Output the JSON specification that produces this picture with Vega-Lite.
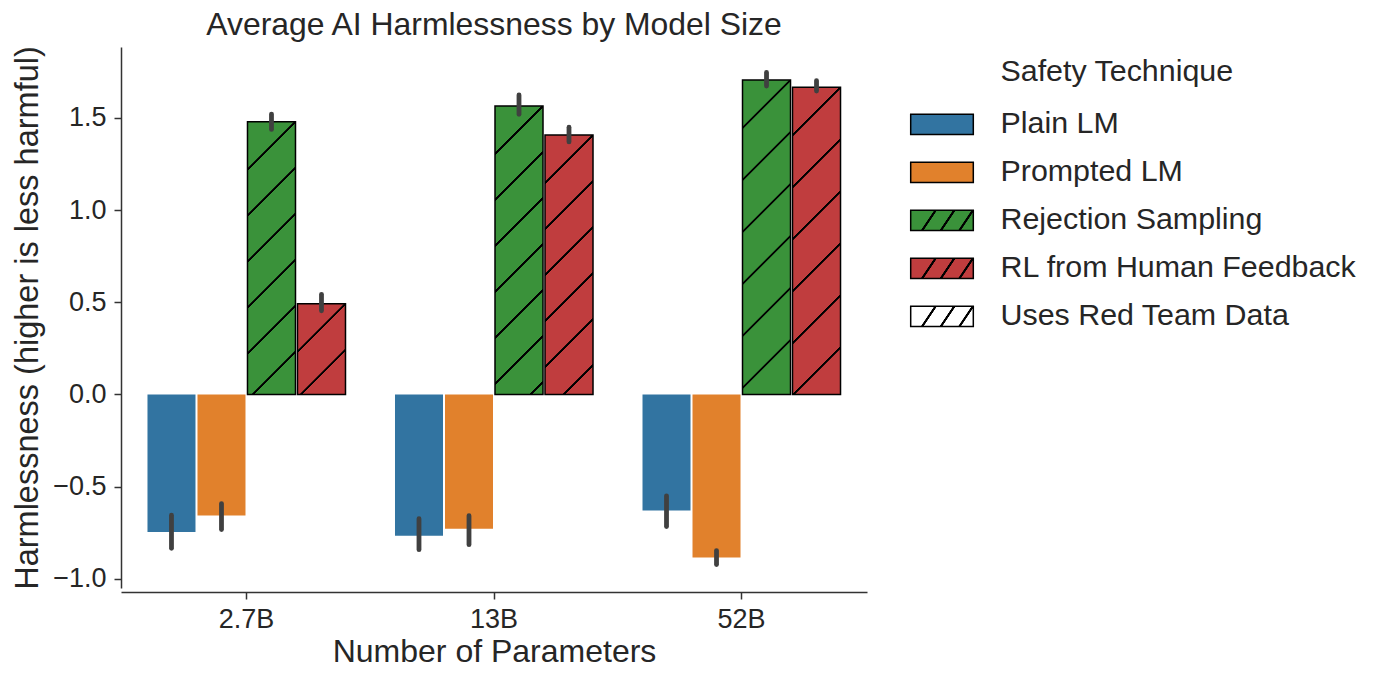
{
  "$schema": "https://vega.github.io/schema/vega-lite/v6.json",
  "width": 746,
  "height": 541,
  "autosize": "none",
  "padding": {"left": 121, "top": 47, "right": 508, "bottom": 87},
  "background": "white",
  "config": {"font": "Liberation Sans", "view": {"stroke": null}, "axis": {"grid": false}},
  "title": {"text": "Average AI Harmlessness by Model Size", "fontSize": 31.9, "fontWeight": "normal", "color": "#262626", "anchor": "middle", "offset": 4},
  "data": {"values": [
    {"size": "2.7B", "technique": "Plain LM", "mean": -0.746, "lo": -0.835, "hi": -0.655},
    {"size": "2.7B", "technique": "Prompted LM", "mean": -0.656, "lo": -0.733, "hi": -0.592},
    {"size": "2.7B", "technique": "Rejection Sampling", "mean": 1.480, "lo": 1.438, "hi": 1.521},
    {"size": "2.7B", "technique": "RL from Human Feedback", "mean": 0.492, "lo": 0.454, "hi": 0.543},
    {"size": "13B", "technique": "Plain LM", "mean": -0.766, "lo": -0.842, "hi": -0.674},
    {"size": "13B", "technique": "Prompted LM", "mean": -0.728, "lo": -0.815, "hi": -0.658},
    {"size": "13B", "technique": "Rejection Sampling", "mean": 1.565, "lo": 1.520, "hi": 1.625},
    {"size": "13B", "technique": "RL from Human Feedback", "mean": 1.407, "lo": 1.370, "hi": 1.450},
    {"size": "52B", "technique": "Plain LM", "mean": -0.630, "lo": -0.717, "hi": -0.550},
    {"size": "52B", "technique": "Prompted LM", "mean": -0.885, "lo": -0.923, "hi": -0.847},
    {"size": "52B", "technique": "Rejection Sampling", "mean": 1.706, "lo": 1.673, "hi": 1.747},
    {"size": "52B", "technique": "RL from Human Feedback", "mean": 1.666, "lo": 1.646, "hi": 1.702}
  ]},
  "layer": [
    {
      "mark": {"type": "bar", "strokeWidth": 1.5},
      "encoding": {
        "x": {"field": "size", "type": "nominal", "sort": ["2.7B", "13B", "52B"],
          "scale": {"paddingInner": 0.2, "paddingOuter": 0.107},
          "axis": {"title": "Number of Parameters", "titleFontSize": 32, "titleFontWeight": "normal", "titleColor": "#262626", "titlePadding": 4,
            "labelFontSize": 27, "labelColor": "#262626", "labelAngle": 0, "labelPadding": 7, "tickSize": 7, "tickWidth": 1.5, "tickColor": "#333333",
            "domainColor": "#333333", "domainWidth": 1.5, "offset": 4}},
        "xOffset": {"field": "technique", "type": "nominal", "sort": ["Plain LM", "Prompted LM", "Rejection Sampling", "RL from Human Feedback"], "scale": {"paddingInner": 0.04}},
        "y": {"field": "mean", "type": "quantitative",
          "scale": {"domain": [-1.05, 1.885], "nice": false, "zero": false},
          "axis": {"title": "Harmlessness (higher is less harmful)", "titleFontSize": 32.5, "titleFontWeight": "normal", "titleColor": "#262626", "titlePadding": 8,
            "values": [-1, -0.5, 0, 0.5, 1, 1.5], "format": ".1f", "labelFontSize": 27, "labelColor": "#262626", "labelPadding": 8,
            "tickSize": 7, "tickWidth": 1.5, "tickColor": "#333333", "domainColor": "#333333", "domainWidth": 1.5}},
        "fill": {
          "field": "technique", "type": "nominal", "legend": null,
          "scale": {"domain": ["Plain LM", "Prompted LM", "Rejection Sampling", "RL from Human Feedback"],
                    "range": ["#3274a1", "#e1812c", "#3a923a", "#c03d3e"]},
          "condition": [
            {"test": "datum.size === '2.7B' && datum.technique === 'Rejection Sampling'", "value": {"gradient": "linear", "x1": 0, "y1": 0, "x2": 0.20070, "y2": 1.14063, "stops": [
              {"offset": 0, "color": "#3a923a"}, {"offset": 0.14433, "color": "#3a923a"}, {"offset": 0.14651, "color": "#000000"}, {"offset": 0.15274, "color": "#000000"}, {"offset": 0.15493, "color": "#3a923a"},
              {"offset": 0.28772, "color": "#3a923a"}, {"offset": 0.28990, "color": "#000000"}, {"offset": 0.29613, "color": "#000000"}, {"offset": 0.29832, "color": "#3a923a"},
              {"offset": 0.43111, "color": "#3a923a"}, {"offset": 0.43329, "color": "#000000"}, {"offset": 0.43953, "color": "#000000"}, {"offset": 0.44171, "color": "#3a923a"},
              {"offset": 0.57451, "color": "#3a923a"}, {"offset": 0.57668, "color": "#000000"}, {"offset": 0.58292, "color": "#000000"}, {"offset": 0.58510, "color": "#3a923a"},
              {"offset": 0.71789, "color": "#3a923a"}, {"offset": 0.72007, "color": "#000000"}, {"offset": 0.72631, "color": "#000000"}, {"offset": 0.72849, "color": "#3a923a"},
              {"offset": 0.86129, "color": "#3a923a"}, {"offset": 0.86347, "color": "#000000"}, {"offset": 0.86970, "color": "#000000"}, {"offset": 0.87188, "color": "#3a923a"},
              {"offset": 1, "color": "#3a923a"}]}},
            {"test": "datum.size === '2.7B' && datum.technique === 'RL from Human Feedback'", "value": {"gradient": "linear", "x1": 0, "y1": 0, "x2": 0.63222, "y2": 1.19465, "stops": [
              {"offset": 0, "color": "#c03d3e"}, {"offset": 0.33381, "color": "#c03d3e"}, {"offset": 0.33886, "color": "#000000"}, {"offset": 0.35328, "color": "#000000"}, {"offset": 0.35833, "color": "#c03d3e"},
              {"offset": 0.66546, "color": "#c03d3e"}, {"offset": 0.67051, "color": "#000000"}, {"offset": 0.68493, "color": "#000000"}, {"offset": 0.68998, "color": "#c03d3e"},
              {"offset": 1, "color": "#c03d3e"}]}},
            {"test": "datum.size === '13B' && datum.technique === 'Rejection Sampling'", "value": {"gradient": "linear", "x1": 0, "y1": 0, "x2": 0.18883, "y2": 1.13496, "stops": [
              {"offset": 0, "color": "#3a923a"}, {"offset": 0.13759, "color": "#3a923a"}, {"offset": 0.13967, "color": "#000000"}, {"offset": 0.14562, "color": "#000000"}, {"offset": 0.14770, "color": "#3a923a"},
              {"offset": 0.27429, "color": "#3a923a"}, {"offset": 0.27637, "color": "#000000"}, {"offset": 0.28232, "color": "#000000"}, {"offset": 0.28440, "color": "#3a923a"},
              {"offset": 0.41100, "color": "#3a923a"}, {"offset": 0.41308, "color": "#000000"}, {"offset": 0.41902, "color": "#000000"}, {"offset": 0.42110, "color": "#3a923a"},
              {"offset": 0.54770, "color": "#3a923a"}, {"offset": 0.54978, "color": "#000000"}, {"offset": 0.55572, "color": "#000000"}, {"offset": 0.55780, "color": "#3a923a"},
              {"offset": 0.68440, "color": "#3a923a"}, {"offset": 0.68648, "color": "#000000"}, {"offset": 0.69242, "color": "#000000"}, {"offset": 0.69450, "color": "#3a923a"},
              {"offset": 0.82110, "color": "#3a923a"}, {"offset": 0.82318, "color": "#000000"}, {"offset": 0.82912, "color": "#000000"}, {"offset": 0.83120, "color": "#3a923a"},
              {"offset": 0.95780, "color": "#3a923a"}, {"offset": 0.95988, "color": "#000000"}, {"offset": 0.96582, "color": "#000000"}, {"offset": 0.96790, "color": "#3a923a"},
              {"offset": 1, "color": "#3a923a"}]}},
            {"test": "datum.size === '13B' && datum.technique === 'RL from Human Feedback'", "value": {"gradient": "linear", "x1": 0, "y1": 0, "x2": 0.21203, "y2": 1.14582, "stops": [
              {"offset": 0, "color": "#c03d3e"}, {"offset": 0.15062, "color": "#c03d3e"}, {"offset": 0.15289, "color": "#000000"}, {"offset": 0.15940, "color": "#000000"}, {"offset": 0.16168, "color": "#c03d3e"},
              {"offset": 0.30026, "color": "#c03d3e"}, {"offset": 0.30254, "color": "#000000"}, {"offset": 0.30904, "color": "#000000"}, {"offset": 0.31132, "color": "#c03d3e"},
              {"offset": 0.44990, "color": "#c03d3e"}, {"offset": 0.45218, "color": "#000000"}, {"offset": 0.45869, "color": "#000000"}, {"offset": 0.46096, "color": "#c03d3e"},
              {"offset": 0.59955, "color": "#c03d3e"}, {"offset": 0.60182, "color": "#000000"}, {"offset": 0.60833, "color": "#000000"}, {"offset": 0.61061, "color": "#c03d3e"},
              {"offset": 0.74919, "color": "#c03d3e"}, {"offset": 0.75146, "color": "#000000"}, {"offset": 0.75797, "color": "#000000"}, {"offset": 0.76025, "color": "#c03d3e"},
              {"offset": 0.89883, "color": "#c03d3e"}, {"offset": 0.90111, "color": "#000000"}, {"offset": 0.90761, "color": "#000000"}, {"offset": 0.90989, "color": "#c03d3e"},
              {"offset": 1, "color": "#c03d3e"}]}},
            {"test": "datum.size === '52B' && datum.technique === 'Rejection Sampling'", "value": {"gradient": "linear", "x1": 0, "y1": 0, "x2": 0.17191, "y2": 1.12638, "stops": [
              {"offset": 0, "color": "#3a923a"}, {"offset": 0.12772, "color": "#3a923a"}, {"offset": 0.12966, "color": "#000000"}, {"offset": 0.13517, "color": "#000000"}, {"offset": 0.13710, "color": "#3a923a"},
              {"offset": 0.27117, "color": "#3a923a"}, {"offset": 0.27310, "color": "#000000"}, {"offset": 0.27862, "color": "#000000"}, {"offset": 0.28055, "color": "#3a923a"},
              {"offset": 0.41462, "color": "#3a923a"}, {"offset": 0.41655, "color": "#000000"}, {"offset": 0.42207, "color": "#000000"}, {"offset": 0.42400, "color": "#3a923a"},
              {"offset": 0.55807, "color": "#3a923a"}, {"offset": 0.56000, "color": "#000000"}, {"offset": 0.56552, "color": "#000000"}, {"offset": 0.56745, "color": "#3a923a"},
              {"offset": 0.70152, "color": "#3a923a"}, {"offset": 0.70345, "color": "#000000"}, {"offset": 0.70897, "color": "#000000"}, {"offset": 0.71090, "color": "#3a923a"},
              {"offset": 0.84497, "color": "#3a923a"}, {"offset": 0.84690, "color": "#000000"}, {"offset": 0.85241, "color": "#000000"}, {"offset": 0.85434, "color": "#3a923a"},
              {"offset": 1, "color": "#3a923a"}]}},
            {"test": "datum.size === '52B' && datum.technique === 'RL from Human Feedback'", "value": {"gradient": "linear", "x1": 0, "y1": 0, "x2": 0.17642, "y2": 1.12872, "stops": [
              {"offset": 0, "color": "#c03d3e"}, {"offset": 0.13038, "color": "#c03d3e"}, {"offset": 0.13236, "color": "#000000"}, {"offset": 0.13799, "color": "#000000"}, {"offset": 0.13996, "color": "#c03d3e"},
              {"offset": 0.27682, "color": "#c03d3e"}, {"offset": 0.27880, "color": "#000000"}, {"offset": 0.28443, "color": "#000000"}, {"offset": 0.28640, "color": "#c03d3e"},
              {"offset": 0.42326, "color": "#c03d3e"}, {"offset": 0.42523, "color": "#000000"}, {"offset": 0.43086, "color": "#000000"}, {"offset": 0.43284, "color": "#c03d3e"},
              {"offset": 0.56970, "color": "#c03d3e"}, {"offset": 0.57167, "color": "#000000"}, {"offset": 0.57730, "color": "#000000"}, {"offset": 0.57927, "color": "#c03d3e"},
              {"offset": 0.71614, "color": "#c03d3e"}, {"offset": 0.71811, "color": "#000000"}, {"offset": 0.72374, "color": "#000000"}, {"offset": 0.72571, "color": "#c03d3e"},
              {"offset": 0.86257, "color": "#c03d3e"}, {"offset": 0.86455, "color": "#000000"}, {"offset": 0.87018, "color": "#000000"}, {"offset": 0.87215, "color": "#c03d3e"},
              {"offset": 1, "color": "#c03d3e"}]}}
          ]
        },
        "stroke": {"condition": {"test": "datum.technique === 'Rejection Sampling' || datum.technique === 'RL from Human Feedback'", "value": "#000000"}, "value": "transparent"}
      }
    },
    {
      "mark": {"type": "rule", "strokeWidth": 4.8, "color": "#404040", "strokeCap": "round"},
      "encoding": {
        "x": {"field": "size", "type": "nominal", "sort": ["2.7B", "13B", "52B"]},
        "xOffset": {"field": "technique", "type": "nominal", "sort": ["Plain LM", "Prompted LM", "Rejection Sampling", "RL from Human Feedback"]},
        "y": {"field": "lo", "type": "quantitative"},
        "y2": {"field": "hi"}
      }
    },
    {
      "mark": {"type": "point", "opacity": 0, "filled": true},
      "encoding": {
        "x": {"field": "size", "type": "nominal", "sort": ["2.7B", "13B", "52B"]},
        "xOffset": {"field": "technique", "type": "nominal", "sort": ["Plain LM", "Prompted LM", "Rejection Sampling", "RL from Human Feedback"]},
        "y": {"field": "mean", "type": "quantitative"},
        "shape": {
          "field": "technique", "type": "nominal",
          "scale": {"domain": ["Plain LM", "Prompted LM", "Rejection Sampling", "RL from Human Feedback", "Uses Red Team Data"],
                    "range": ["M-1,-0.326H1V0.326H-1Z", "M-1,-0.326H1V0.326H-1Z", "M-1,-0.326H1V0.326H-1Z", "M-1,-0.326H1V0.326H-1Z", "M-1,-0.326H1V0.326H-1Z"]},
          "legend": {
            "orient": "none", "legendX": 788.5, "legendY": 10,
            "title": "Safety Technique", "titleFontSize": 30.4, "titleFontWeight": "normal", "titleColor": "#262626", "titlePadding": 4.5, "titleLimit": 800,
            "labelFontSize": 30.4, "labelColor": "#262626", "labelOffset": 26, "labelLimit": 800,
            "symbolSize": 3919, "symbolStrokeWidth": 1.5, "symbolStrokeColor": "#000000", "symbolOpacity": 1,
            "rowPadding": 0,
            "encoding": {
              "title": {"dx": {"value": 91}},
              "symbols": {
                "stroke": {"value": "#000000"},
                "strokeWidth": {"value": 1.5},
                "opacity": {"value": 1},
                "size": {"value": 3919},
                "fill": {
                  "condition": [
                    {"test": "datum.value === 'Rejection Sampling'", "value": {"gradient": "linear", "x1": 0, "y1": 0, "x2": 1.1633, "y2": 0.2546, "stops": [
                      {"offset": 0, "color": "#3a923a"}, {"offset": 0.30537, "color": "#3a923a"}, {"offset": 0.31455, "color": "#000000"}, {"offset": 0.34076, "color": "#000000"}, {"offset": 0.34993, "color": "#3a923a"},
                      {"offset": 0.55046, "color": "#3a923a"}, {"offset": 0.55963, "color": "#000000"}, {"offset": 0.58585, "color": "#000000"}, {"offset": 0.59502, "color": "#3a923a"},
                      {"offset": 0.79423, "color": "#3a923a"}, {"offset": 0.80341, "color": "#000000"}, {"offset": 0.82962, "color": "#000000"}, {"offset": 0.83879, "color": "#3a923a"},
                      {"offset": 1, "color": "#3a923a"}]}},
                    {"test": "datum.value === 'RL from Human Feedback'", "value": {"gradient": "linear", "x1": 0, "y1": 0, "x2": 1.1633, "y2": 0.2546, "stops": [
                      {"offset": 0, "color": "#c03d3e"}, {"offset": 0.30537, "color": "#c03d3e"}, {"offset": 0.31455, "color": "#000000"}, {"offset": 0.34076, "color": "#000000"}, {"offset": 0.34993, "color": "#c03d3e"},
                      {"offset": 0.55046, "color": "#c03d3e"}, {"offset": 0.55963, "color": "#000000"}, {"offset": 0.58585, "color": "#000000"}, {"offset": 0.59502, "color": "#c03d3e"},
                      {"offset": 0.79423, "color": "#c03d3e"}, {"offset": 0.80341, "color": "#000000"}, {"offset": 0.82962, "color": "#000000"}, {"offset": 0.83879, "color": "#c03d3e"},
                      {"offset": 1, "color": "#c03d3e"}]}},
                    {"test": "datum.value === 'Uses Red Team Data'", "value": {"gradient": "linear", "x1": 0, "y1": 0, "x2": 1.1633, "y2": 0.2546, "stops": [
                      {"offset": 0, "color": "#ffffff"}, {"offset": 0.30537, "color": "#ffffff"}, {"offset": 0.31455, "color": "#000000"}, {"offset": 0.34076, "color": "#000000"}, {"offset": 0.34993, "color": "#ffffff"},
                      {"offset": 0.55046, "color": "#ffffff"}, {"offset": 0.55963, "color": "#000000"}, {"offset": 0.58585, "color": "#000000"}, {"offset": 0.59502, "color": "#ffffff"},
                      {"offset": 0.79423, "color": "#ffffff"}, {"offset": 0.80341, "color": "#000000"}, {"offset": 0.82962, "color": "#000000"}, {"offset": 0.83879, "color": "#ffffff"},
                      {"offset": 1, "color": "#ffffff"}]}},
                    {"test": "datum.value === 'Plain LM'", "value": "#3274a1"}
                  ],
                  "value": "#e1812c"
                }
              }
            }
          }
        }
      }
    }
  ]
}
